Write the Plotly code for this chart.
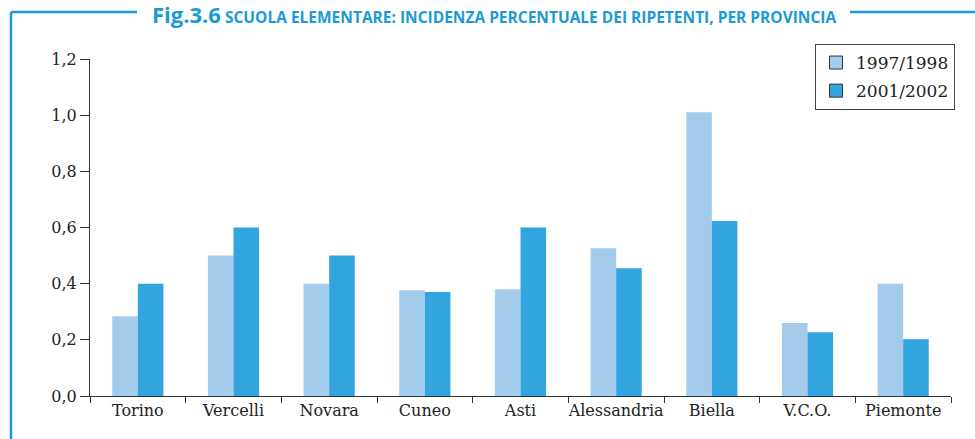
import plotly.graph_objects as go

categories = ["Torino", "Vercelli", "Novara", "Cuneo", "Asti", "Alessandria", "Biella", "V.C.O.", "Piemonte"]
v_1997 = [0.284, 0.50, 0.40, 0.377, 0.38, 0.526, 1.01, 0.26, 0.40]
v_2001 = [0.40, 0.60, 0.50, 0.37, 0.60, 0.455, 0.623, 0.227, 0.202]
series_names = ["1997/1998", "2001/2002"]
y_ticks = [0, 0.2, 0.4, 0.6, 0.8, 1.0, 1.2]

c_light = "#A3CBEC"
c_dark = "#33A5DE"
c_frame = "#1A9AD6"

W, H = 975, 439
L, T = 90, 59
R = W - 951
B = H - 396
pw, ph = W - L - R, H - T - B

def px(x):
    return (x - L) / pw

def py(y):
    return (H - B - y) / ph

fig = go.Figure()
fig.add_bar(x=categories, y=v_1997, marker=dict(color=c_light, line=dict(width=0)), showlegend=False)
fig.add_bar(x=categories, y=v_2001, marker=dict(color=c_dark, line=dict(width=0)), showlegend=False)
for name, col in zip(series_names, [c_light, c_dark]):
    fig.add_scatter(x=[None], y=[None], mode="markers", name=name, legendgroup=name,
                    marker=dict(symbol="square", size=13, color=col, line=dict(color="#333", width=1)))

fig.update_layout(
    width=W, height=H,
    margin=dict(l=L, r=R, t=T, b=B),
    paper_bgcolor="white", plot_bgcolor="white",
    barmode="group", bargap=0.465, bargroupgap=0,
    separators=",.",
    font=dict(family="DejaVu Serif", size=16, color="#222"),
    legend=dict(x=px(815), y=py(44), xanchor="left", yanchor="top",
                bordercolor="#444", borderwidth=1, bgcolor="white",
                font=dict(size=17), tracegroupgap=3, itemwidth=30,
                entrywidth=120, entrywidthmode="pixels"),
    xaxis=dict(showline=True, linecolor="#333", linewidth=1, ticks="outside",
               tickson="boundaries", ticklen=6, tickcolor="#333", showgrid=False,
               range=[-0.5, 8.5], tickangle=0, automargin=False),
    yaxis=dict(showline=True, linecolor="#333", linewidth=1, ticks="outside",
               ticklen=9, tickcolor="#333", showgrid=False, range=[0, 1.2],
               tickvals=y_ticks, tickformat=".1f", zeroline=False, automargin=False),
)

# frame lines
fig.add_shape(type="line", xref="paper", yref="paper", x0=px(11), x1=px(11), y0=py(12), y1=py(450),
              line=dict(color=c_frame, width=2.5))
fig.add_shape(type="line", xref="paper", yref="paper", x0=px(11), x1=px(137), y0=py(12), y1=py(12),
              line=dict(color=c_frame, width=2.5))
fig.add_shape(type="line", xref="paper", yref="paper", x0=px(850), x1=px(990), y0=py(12), y1=py(12),
              line=dict(color=c_frame, width=2.5))
fig.add_annotation(xref="paper", yref="paper", x=px(493.5), y=py(13.5), xanchor="center", yanchor="middle",
                   showarrow=False,
                   text="<b><span style='font-size:22px'>Fig.3.6</span> SCUOLA ELEMENTARE: INCIDENZA PERCENTUALE DEI RIPETENTI, PER PROVINCIA</b>",
                   font=dict(family="Open Sans", size=15.5, color=c_frame))

fig.write_html("out.html", config={"displayModeBar": False},
               post_script="document.body.style.margin='0';document.body.style.padding='0';")
